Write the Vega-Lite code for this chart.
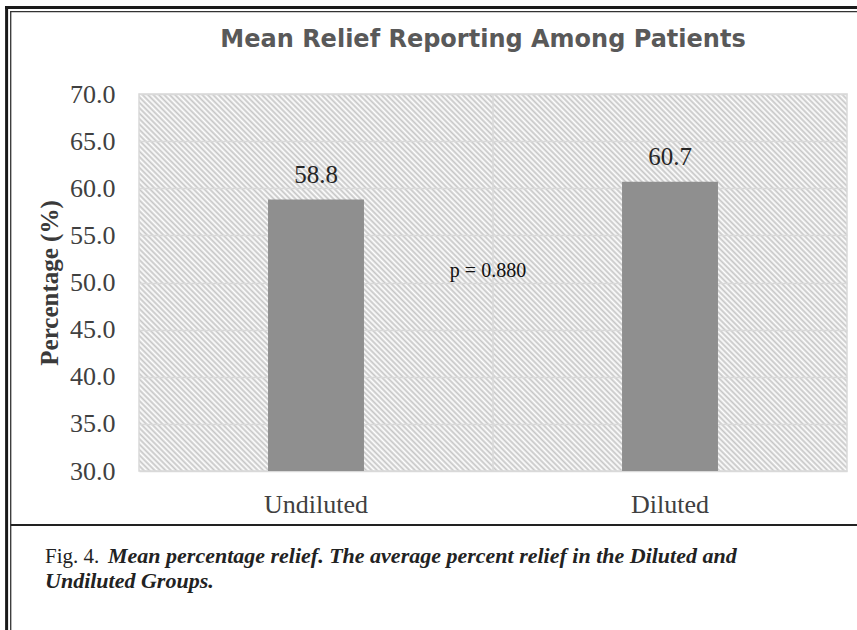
{
 "$schema": "https://vega.github.io/schema/vega-lite/v6.json",
 "width": 708,
 "height": 377,
 "autosize": "none",
 "padding": {"left": 139, "top": 94, "right": 10, "bottom": 159},
 "background": "white",
 "title": {"text": "Mean Relief Reporting Among Patients", "font": "DejaVu Sans", "fontSize": 24, "fontWeight": "bold", "color": "#595959", "anchor": "middle", "frame": "group", "dx": -10, "offset": 28, "dy": 76},
 "data": {"values": [{"group": "Undiluted", "relief": 58.8}, {"group": "Diluted", "relief": 60.7}]},
 "layer": [
  {"transform": [{"filter": {"field": "group", "equal": "Undiluted"}}],
   "mark": {"type": "rule", "color": "#d9d9d9", "strokeWidth": 1.5},
   "encoding": {"x": {"datum": "Diluted", "type": "nominal", "bandPosition": 0, "scale": {"domain": ["Undiluted", "Diluted"], "paddingInner": 0, "paddingOuter": 0}}}},
  {"mark": {"type": "bar", "color": "#8f8f8f", "width": {"band": 0.271}},
   "encoding": {
    "x": {"field": "group", "type": "nominal", "sort": null, "scale": {"domain": ["Undiluted", "Diluted"], "paddingInner": 0, "paddingOuter": 0}, "axis": {"title": null, "labelFontSize": 26, "labelColor": "#404040", "labelPadding": 20, "ticks": false, "domain": false, "grid": false, "labelAngle": 0, "labelAlign": "center", "labelBaseline": "top", "bandPosition": 0.5}},
    "y": {"field": "relief", "type": "quantitative", "scale": {"domain": [30, 70], "nice": false, "zero": false}, "axis": {"title": "Percentage (%)", "values": [30, 35, 40, 45, 50, 55, 60, 65, 70], "format": ".1f", "labelFontSize": 26, "labelColor": "#404040", "labelPadding": 24, "labelFlush": false, "labelOverlap": false, "ticks": false, "domain": false, "grid": true, "gridColor": "#d9d9d9", "gridWidth": 1.5, "titleFontSize": 25, "titleFontWeight": "bold", "titleColor": "#3a3a3a", "titlePadding": 7}},
    "y2": {"datum": 30}
   }},
  {"mark": {"type": "text", "fontSize": 25, "color": "#262626", "baseline": "alphabetic", "dy": -17},
   "encoding": {
    "x": {"field": "group", "type": "nominal"},
    "y": {"field": "relief", "type": "quantitative"},
    "text": {"field": "relief", "type": "quantitative", "format": ".1f"}
   }},
  {"transform": [{"filter": {"field": "group", "equal": "Undiluted"}}],
   "mark": {"type": "text", "fontSize": 20, "color": "#111111", "baseline": "alphabetic", "dx": -5},
   "encoding": {
    "x": {"datum": "Undiluted", "type": "nominal", "bandPosition": 1},
    "y": {"datum": 50.58, "type": "quantitative"},
    "text": {"value": "p = 0.880"}
   }},
  {"transform": [{"filter": {"field": "group", "equal": "Undiluted"}}],
   "mark": {"type": "rule", "color": "#1a1a1a", "strokeWidth": 3},
   "encoding": {
    "x": {"datum": "Undiluted", "type": "nominal", "bandPosition": -0.3785},
    "x2": {"datum": "Diluted", "bandPosition": 1.0282},
    "y": {"datum": 79.18, "type": "quantitative"}
   }},
  {"transform": [{"filter": {"field": "group", "equal": "Undiluted"}}],
   "mark": {"type": "rule", "color": "#333333", "strokeWidth": 1.3},
   "encoding": {
    "x": {"datum": "Undiluted", "type": "nominal", "bandPosition": -0.3636},
    "x2": {"datum": "Diluted", "bandPosition": 1.0282},
    "y": {"datum": 78.75, "type": "quantitative"}
   }},
  {"transform": [{"filter": {"field": "group", "equal": "Undiluted"}}],
   "mark": {"type": "rule", "color": "#1a1a1a", "strokeWidth": 3},
   "encoding": {
    "x": {"datum": "Undiluted", "type": "nominal", "bandPosition": -0.374},
    "y": {"datum": 79.34, "type": "quantitative"},
    "y2": {"datum": 13.13}
   }},
  {"transform": [{"filter": {"field": "group", "equal": "Undiluted"}}],
   "mark": {"type": "rule", "color": "#333333", "strokeWidth": 1.3},
   "encoding": {
    "x": {"datum": "Undiluted", "type": "nominal", "bandPosition": -0.3624},
    "y": {"datum": 78.8, "type": "quantitative"},
    "y2": {"datum": 13.13}
   }},
  {"transform": [{"filter": {"field": "group", "equal": "Undiluted"}}],
   "mark": {"type": "rule", "color": "#222222", "strokeWidth": 2},
   "encoding": {
    "x": {"datum": "Undiluted", "type": "nominal", "bandPosition": -0.3624},
    "x2": {"datum": "Diluted", "bandPosition": 1.0282},
    "y": {"datum": 24.27, "type": "quantitative"}
   }},
  {"transform": [{"filter": {"field": "group", "equal": "Undiluted"}}],
   "mark": {"type": "text", "align": "left", "baseline": "alphabetic", "fontSize": 21, "color": "#222222"},
   "encoding": {
    "x": {"datum": "Undiluted", "type": "nominal", "bandPosition": -0.2655},
    "y": {"datum": 20.24, "type": "quantitative"},
    "text": {"value": "Fig. 4."}
   }},
  {"transform": [{"filter": {"field": "group", "equal": "Undiluted"}}],
   "mark": {"type": "text", "align": "left", "baseline": "alphabetic", "fontSize": 22, "fontStyle": "italic", "fontWeight": "bold", "color": "#222222"},
   "encoding": {
    "x": {"datum": "Undiluted", "type": "nominal", "bandPosition": -0.0876},
    "y": {"datum": 20.24, "type": "quantitative"},
    "text": {"value": "Mean percentage relief.  The average percent relief  in the Diluted and"}
   }},
  {"transform": [{"filter": {"field": "group", "equal": "Undiluted"}}],
   "mark": {"type": "text", "align": "left", "baseline": "alphabetic", "fontSize": 22, "fontStyle": "italic", "fontWeight": "bold", "color": "#222222"},
   "encoding": {
    "x": {"datum": "Undiluted", "type": "nominal", "bandPosition": -0.2655},
    "y": {"datum": 17.59, "type": "quantitative"},
    "text": {"value": "Undiluted Groups."}
   }}
 ],
 "config": {
  "font": "Liberation Serif",
  "axis": {"labelFont": "Liberation Serif", "titleFont": "Liberation Serif"},
  "text": {"font": "Liberation Serif"},
  "view": {"stroke": "#d9d9d9", "strokeWidth": 1.5, "fill": {"gradient": "linear", "x1": 0, "y1": 1, "x2": 1.194, "y2": 0.364, "stops": [
{"offset":0,"color":"#c6c6c6"},{"offset":0.0025,"color":"#fff"},{"offset":0.005,"color":"#c6c6c6"},{"offset":0.0075,"color":"#fff"},
{"offset":0.01,"color":"#c6c6c6"},{"offset":0.0125,"color":"#fff"},{"offset":0.015,"color":"#c6c6c6"},{"offset":0.0175,"color":"#fff"},
{"offset":0.02,"color":"#c6c6c6"},{"offset":0.0225,"color":"#fff"},{"offset":0.025,"color":"#c6c6c6"},{"offset":0.0275,"color":"#fff"},
{"offset":0.03,"color":"#c6c6c6"},{"offset":0.0325,"color":"#fff"},{"offset":0.035,"color":"#c6c6c6"},{"offset":0.0375,"color":"#fff"},
{"offset":0.04,"color":"#c6c6c6"},{"offset":0.0425,"color":"#fff"},{"offset":0.045,"color":"#c6c6c6"},{"offset":0.0475,"color":"#fff"},
{"offset":0.05,"color":"#c6c6c6"},{"offset":0.0525,"color":"#fff"},{"offset":0.055,"color":"#c6c6c6"},{"offset":0.0575,"color":"#fff"},
{"offset":0.06,"color":"#c6c6c6"},{"offset":0.0625,"color":"#fff"},{"offset":0.065,"color":"#c6c6c6"},{"offset":0.0675,"color":"#fff"},
{"offset":0.07,"color":"#c6c6c6"},{"offset":0.0725,"color":"#fff"},{"offset":0.075,"color":"#c6c6c6"},{"offset":0.0775,"color":"#fff"},
{"offset":0.08,"color":"#c6c6c6"},{"offset":0.0825,"color":"#fff"},{"offset":0.085,"color":"#c6c6c6"},{"offset":0.0875,"color":"#fff"},
{"offset":0.09,"color":"#c6c6c6"},{"offset":0.0925,"color":"#fff"},{"offset":0.095,"color":"#c6c6c6"},{"offset":0.0975,"color":"#fff"},
{"offset":0.1,"color":"#c6c6c6"},{"offset":0.1025,"color":"#fff"},{"offset":0.105,"color":"#c6c6c6"},{"offset":0.1075,"color":"#fff"},
{"offset":0.11,"color":"#c6c6c6"},{"offset":0.1125,"color":"#fff"},{"offset":0.115,"color":"#c6c6c6"},{"offset":0.1175,"color":"#fff"},
{"offset":0.12,"color":"#c6c6c6"},{"offset":0.1225,"color":"#fff"},{"offset":0.125,"color":"#c6c6c6"},{"offset":0.1275,"color":"#fff"},
{"offset":0.13,"color":"#c6c6c6"},{"offset":0.1325,"color":"#fff"},{"offset":0.135,"color":"#c6c6c6"},{"offset":0.1375,"color":"#fff"},
{"offset":0.14,"color":"#c6c6c6"},{"offset":0.1425,"color":"#fff"},{"offset":0.145,"color":"#c6c6c6"},{"offset":0.1475,"color":"#fff"},
{"offset":0.15,"color":"#c6c6c6"},{"offset":0.1525,"color":"#fff"},{"offset":0.155,"color":"#c6c6c6"},{"offset":0.1575,"color":"#fff"},
{"offset":0.16,"color":"#c6c6c6"},{"offset":0.1625,"color":"#fff"},{"offset":0.165,"color":"#c6c6c6"},{"offset":0.1675,"color":"#fff"},
{"offset":0.17,"color":"#c6c6c6"},{"offset":0.1725,"color":"#fff"},{"offset":0.175,"color":"#c6c6c6"},{"offset":0.1775,"color":"#fff"},
{"offset":0.18,"color":"#c6c6c6"},{"offset":0.1825,"color":"#fff"},{"offset":0.185,"color":"#c6c6c6"},{"offset":0.1875,"color":"#fff"},
{"offset":0.19,"color":"#c6c6c6"},{"offset":0.1925,"color":"#fff"},{"offset":0.195,"color":"#c6c6c6"},{"offset":0.1975,"color":"#fff"},
{"offset":0.2,"color":"#c6c6c6"},{"offset":0.2025,"color":"#fff"},{"offset":0.205,"color":"#c6c6c6"},{"offset":0.2075,"color":"#fff"},
{"offset":0.21,"color":"#c6c6c6"},{"offset":0.2125,"color":"#fff"},{"offset":0.215,"color":"#c6c6c6"},{"offset":0.2175,"color":"#fff"},
{"offset":0.22,"color":"#c6c6c6"},{"offset":0.2225,"color":"#fff"},{"offset":0.225,"color":"#c6c6c6"},{"offset":0.2275,"color":"#fff"},
{"offset":0.23,"color":"#c6c6c6"},{"offset":0.2325,"color":"#fff"},{"offset":0.235,"color":"#c6c6c6"},{"offset":0.2375,"color":"#fff"},
{"offset":0.24,"color":"#c6c6c6"},{"offset":0.2425,"color":"#fff"},{"offset":0.245,"color":"#c6c6c6"},{"offset":0.2475,"color":"#fff"},
{"offset":0.25,"color":"#c6c6c6"},{"offset":0.2525,"color":"#fff"},{"offset":0.255,"color":"#c6c6c6"},{"offset":0.2575,"color":"#fff"},
{"offset":0.26,"color":"#c6c6c6"},{"offset":0.2625,"color":"#fff"},{"offset":0.265,"color":"#c6c6c6"},{"offset":0.2675,"color":"#fff"},
{"offset":0.27,"color":"#c6c6c6"},{"offset":0.2725,"color":"#fff"},{"offset":0.275,"color":"#c6c6c6"},{"offset":0.2775,"color":"#fff"},
{"offset":0.28,"color":"#c6c6c6"},{"offset":0.2825,"color":"#fff"},{"offset":0.285,"color":"#c6c6c6"},{"offset":0.2875,"color":"#fff"},
{"offset":0.29,"color":"#c6c6c6"},{"offset":0.2925,"color":"#fff"},{"offset":0.295,"color":"#c6c6c6"},{"offset":0.2975,"color":"#fff"},
{"offset":0.3,"color":"#c6c6c6"},{"offset":0.3025,"color":"#fff"},{"offset":0.305,"color":"#c6c6c6"},{"offset":0.3075,"color":"#fff"},
{"offset":0.31,"color":"#c6c6c6"},{"offset":0.3125,"color":"#fff"},{"offset":0.315,"color":"#c6c6c6"},{"offset":0.3175,"color":"#fff"},
{"offset":0.32,"color":"#c6c6c6"},{"offset":0.3225,"color":"#fff"},{"offset":0.325,"color":"#c6c6c6"},{"offset":0.3275,"color":"#fff"},
{"offset":0.33,"color":"#c6c6c6"},{"offset":0.3325,"color":"#fff"},{"offset":0.335,"color":"#c6c6c6"},{"offset":0.3375,"color":"#fff"},
{"offset":0.34,"color":"#c6c6c6"},{"offset":0.3425,"color":"#fff"},{"offset":0.345,"color":"#c6c6c6"},{"offset":0.3475,"color":"#fff"},
{"offset":0.35,"color":"#c6c6c6"},{"offset":0.3525,"color":"#fff"},{"offset":0.355,"color":"#c6c6c6"},{"offset":0.3575,"color":"#fff"},
{"offset":0.36,"color":"#c6c6c6"},{"offset":0.3625,"color":"#fff"},{"offset":0.365,"color":"#c6c6c6"},{"offset":0.3675,"color":"#fff"},
{"offset":0.37,"color":"#c6c6c6"},{"offset":0.3725,"color":"#fff"},{"offset":0.375,"color":"#c6c6c6"},{"offset":0.3775,"color":"#fff"},
{"offset":0.38,"color":"#c6c6c6"},{"offset":0.3825,"color":"#fff"},{"offset":0.385,"color":"#c6c6c6"},{"offset":0.3875,"color":"#fff"},
{"offset":0.39,"color":"#c6c6c6"},{"offset":0.3925,"color":"#fff"},{"offset":0.395,"color":"#c6c6c6"},{"offset":0.3975,"color":"#fff"},
{"offset":0.4,"color":"#c6c6c6"},{"offset":0.4025,"color":"#fff"},{"offset":0.405,"color":"#c6c6c6"},{"offset":0.4075,"color":"#fff"},
{"offset":0.41,"color":"#c6c6c6"},{"offset":0.4125,"color":"#fff"},{"offset":0.415,"color":"#c6c6c6"},{"offset":0.4175,"color":"#fff"},
{"offset":0.42,"color":"#c6c6c6"},{"offset":0.4225,"color":"#fff"},{"offset":0.425,"color":"#c6c6c6"},{"offset":0.4275,"color":"#fff"},
{"offset":0.43,"color":"#c6c6c6"},{"offset":0.4325,"color":"#fff"},{"offset":0.435,"color":"#c6c6c6"},{"offset":0.4375,"color":"#fff"},
{"offset":0.44,"color":"#c6c6c6"},{"offset":0.4425,"color":"#fff"},{"offset":0.445,"color":"#c6c6c6"},{"offset":0.4475,"color":"#fff"},
{"offset":0.45,"color":"#c6c6c6"},{"offset":0.4525,"color":"#fff"},{"offset":0.455,"color":"#c6c6c6"},{"offset":0.4575,"color":"#fff"},
{"offset":0.46,"color":"#c6c6c6"},{"offset":0.4625,"color":"#fff"},{"offset":0.465,"color":"#c6c6c6"},{"offset":0.4675,"color":"#fff"},
{"offset":0.47,"color":"#c6c6c6"},{"offset":0.4725,"color":"#fff"},{"offset":0.475,"color":"#c6c6c6"},{"offset":0.4775,"color":"#fff"},
{"offset":0.48,"color":"#c6c6c6"},{"offset":0.4825,"color":"#fff"},{"offset":0.485,"color":"#c6c6c6"},{"offset":0.4875,"color":"#fff"},
{"offset":0.49,"color":"#c6c6c6"},{"offset":0.4925,"color":"#fff"},{"offset":0.495,"color":"#c6c6c6"},{"offset":0.4975,"color":"#fff"},
{"offset":0.5,"color":"#c6c6c6"},{"offset":0.5025,"color":"#fff"},{"offset":0.505,"color":"#c6c6c6"},{"offset":0.5075,"color":"#fff"},
{"offset":0.51,"color":"#c6c6c6"},{"offset":0.5125,"color":"#fff"},{"offset":0.515,"color":"#c6c6c6"},{"offset":0.5175,"color":"#fff"},
{"offset":0.52,"color":"#c6c6c6"},{"offset":0.5225,"color":"#fff"},{"offset":0.525,"color":"#c6c6c6"},{"offset":0.5275,"color":"#fff"},
{"offset":0.53,"color":"#c6c6c6"},{"offset":0.5325,"color":"#fff"},{"offset":0.535,"color":"#c6c6c6"},{"offset":0.5375,"color":"#fff"},
{"offset":0.54,"color":"#c6c6c6"},{"offset":0.5425,"color":"#fff"},{"offset":0.545,"color":"#c6c6c6"},{"offset":0.5475,"color":"#fff"},
{"offset":0.55,"color":"#c6c6c6"},{"offset":0.5525,"color":"#fff"},{"offset":0.555,"color":"#c6c6c6"},{"offset":0.5575,"color":"#fff"},
{"offset":0.56,"color":"#c6c6c6"},{"offset":0.5625,"color":"#fff"},{"offset":0.565,"color":"#c6c6c6"},{"offset":0.5675,"color":"#fff"},
{"offset":0.57,"color":"#c6c6c6"},{"offset":0.5725,"color":"#fff"},{"offset":0.575,"color":"#c6c6c6"},{"offset":0.5775,"color":"#fff"},
{"offset":0.58,"color":"#c6c6c6"},{"offset":0.5825,"color":"#fff"},{"offset":0.585,"color":"#c6c6c6"},{"offset":0.5875,"color":"#fff"},
{"offset":0.59,"color":"#c6c6c6"},{"offset":0.5925,"color":"#fff"},{"offset":0.595,"color":"#c6c6c6"},{"offset":0.5975,"color":"#fff"},
{"offset":0.6,"color":"#c6c6c6"},{"offset":0.6025,"color":"#fff"},{"offset":0.605,"color":"#c6c6c6"},{"offset":0.6075,"color":"#fff"},
{"offset":0.61,"color":"#c6c6c6"},{"offset":0.6125,"color":"#fff"},{"offset":0.615,"color":"#c6c6c6"},{"offset":0.6175,"color":"#fff"},
{"offset":0.62,"color":"#c6c6c6"},{"offset":0.6225,"color":"#fff"},{"offset":0.625,"color":"#c6c6c6"},{"offset":0.6275,"color":"#fff"},
{"offset":0.63,"color":"#c6c6c6"},{"offset":0.6325,"color":"#fff"},{"offset":0.635,"color":"#c6c6c6"},{"offset":0.6375,"color":"#fff"},
{"offset":0.64,"color":"#c6c6c6"},{"offset":0.6425,"color":"#fff"},{"offset":0.645,"color":"#c6c6c6"},{"offset":0.6475,"color":"#fff"},
{"offset":0.65,"color":"#c6c6c6"},{"offset":0.6525,"color":"#fff"},{"offset":0.655,"color":"#c6c6c6"},{"offset":0.6575,"color":"#fff"},
{"offset":0.66,"color":"#c6c6c6"},{"offset":0.6625,"color":"#fff"},{"offset":0.665,"color":"#c6c6c6"},{"offset":0.6675,"color":"#fff"},
{"offset":0.67,"color":"#c6c6c6"},{"offset":0.6725,"color":"#fff"},{"offset":0.675,"color":"#c6c6c6"},{"offset":0.6775,"color":"#fff"},
{"offset":0.68,"color":"#c6c6c6"},{"offset":0.6825,"color":"#fff"},{"offset":0.685,"color":"#c6c6c6"},{"offset":0.6875,"color":"#fff"},
{"offset":0.69,"color":"#c6c6c6"},{"offset":0.6925,"color":"#fff"},{"offset":0.695,"color":"#c6c6c6"},{"offset":0.6975,"color":"#fff"},
{"offset":0.7,"color":"#c6c6c6"},{"offset":0.7025,"color":"#fff"},{"offset":0.705,"color":"#c6c6c6"},{"offset":0.7075,"color":"#fff"},
{"offset":0.71,"color":"#c6c6c6"},{"offset":0.7125,"color":"#fff"},{"offset":0.715,"color":"#c6c6c6"},{"offset":0.7175,"color":"#fff"},
{"offset":0.72,"color":"#c6c6c6"},{"offset":0.7225,"color":"#fff"},{"offset":0.725,"color":"#c6c6c6"},{"offset":0.7275,"color":"#fff"},
{"offset":0.73,"color":"#c6c6c6"},{"offset":0.7325,"color":"#fff"},{"offset":0.735,"color":"#c6c6c6"},{"offset":0.7375,"color":"#fff"},
{"offset":0.74,"color":"#c6c6c6"},{"offset":0.7425,"color":"#fff"},{"offset":0.745,"color":"#c6c6c6"},{"offset":0.7475,"color":"#fff"},
{"offset":0.75,"color":"#c6c6c6"},{"offset":0.7525,"color":"#fff"},{"offset":0.755,"color":"#c6c6c6"},{"offset":0.7575,"color":"#fff"},
{"offset":0.76,"color":"#c6c6c6"},{"offset":0.7625,"color":"#fff"},{"offset":0.765,"color":"#c6c6c6"},{"offset":0.7675,"color":"#fff"},
{"offset":0.77,"color":"#c6c6c6"},{"offset":0.7725,"color":"#fff"},{"offset":0.775,"color":"#c6c6c6"},{"offset":0.7775,"color":"#fff"},
{"offset":0.78,"color":"#c6c6c6"},{"offset":0.7825,"color":"#fff"},{"offset":0.785,"color":"#c6c6c6"},{"offset":0.7875,"color":"#fff"},
{"offset":0.79,"color":"#c6c6c6"},{"offset":0.7925,"color":"#fff"},{"offset":0.795,"color":"#c6c6c6"},{"offset":0.7975,"color":"#fff"},
{"offset":0.8,"color":"#c6c6c6"},{"offset":0.8025,"color":"#fff"},{"offset":0.805,"color":"#c6c6c6"},{"offset":0.8075,"color":"#fff"},
{"offset":0.81,"color":"#c6c6c6"},{"offset":0.8125,"color":"#fff"},{"offset":0.815,"color":"#c6c6c6"},{"offset":0.8175,"color":"#fff"},
{"offset":0.82,"color":"#c6c6c6"},{"offset":0.8225,"color":"#fff"},{"offset":0.825,"color":"#c6c6c6"},{"offset":0.8275,"color":"#fff"},
{"offset":0.83,"color":"#c6c6c6"},{"offset":0.8325,"color":"#fff"},{"offset":0.835,"color":"#c6c6c6"},{"offset":0.8375,"color":"#fff"},
{"offset":0.84,"color":"#c6c6c6"},{"offset":0.8425,"color":"#fff"},{"offset":0.845,"color":"#c6c6c6"},{"offset":0.8475,"color":"#fff"},
{"offset":0.85,"color":"#c6c6c6"},{"offset":0.8525,"color":"#fff"},{"offset":0.855,"color":"#c6c6c6"},{"offset":0.8575,"color":"#fff"},
{"offset":0.86,"color":"#c6c6c6"},{"offset":0.8625,"color":"#fff"},{"offset":0.865,"color":"#c6c6c6"},{"offset":0.8675,"color":"#fff"},
{"offset":0.87,"color":"#c6c6c6"},{"offset":0.8725,"color":"#fff"},{"offset":0.875,"color":"#c6c6c6"},{"offset":0.8775,"color":"#fff"},
{"offset":0.88,"color":"#c6c6c6"},{"offset":0.8825,"color":"#fff"},{"offset":0.885,"color":"#c6c6c6"},{"offset":0.8875,"color":"#fff"},
{"offset":0.89,"color":"#c6c6c6"},{"offset":0.8925,"color":"#fff"},{"offset":0.895,"color":"#c6c6c6"},{"offset":0.8975,"color":"#fff"},
{"offset":0.9,"color":"#c6c6c6"},{"offset":0.9025,"color":"#fff"},{"offset":0.905,"color":"#c6c6c6"},{"offset":0.9075,"color":"#fff"},
{"offset":0.91,"color":"#c6c6c6"},{"offset":0.9125,"color":"#fff"},{"offset":0.915,"color":"#c6c6c6"},{"offset":0.9175,"color":"#fff"},
{"offset":0.92,"color":"#c6c6c6"},{"offset":0.9225,"color":"#fff"},{"offset":0.925,"color":"#c6c6c6"},{"offset":0.9275,"color":"#fff"},
{"offset":0.93,"color":"#c6c6c6"},{"offset":0.9325,"color":"#fff"},{"offset":0.935,"color":"#c6c6c6"},{"offset":0.9375,"color":"#fff"},
{"offset":0.94,"color":"#c6c6c6"},{"offset":0.9425,"color":"#fff"},{"offset":0.945,"color":"#c6c6c6"},{"offset":0.9475,"color":"#fff"},
{"offset":0.95,"color":"#c6c6c6"},{"offset":0.9525,"color":"#fff"},{"offset":0.955,"color":"#c6c6c6"},{"offset":0.9575,"color":"#fff"},
{"offset":0.96,"color":"#c6c6c6"},{"offset":0.9625,"color":"#fff"},{"offset":0.965,"color":"#c6c6c6"},{"offset":0.9675,"color":"#fff"},
{"offset":0.97,"color":"#c6c6c6"},{"offset":0.9725,"color":"#fff"},{"offset":0.975,"color":"#c6c6c6"},{"offset":0.9775,"color":"#fff"},
{"offset":0.98,"color":"#c6c6c6"},{"offset":0.9825,"color":"#fff"},{"offset":0.985,"color":"#c6c6c6"},{"offset":0.9875,"color":"#fff"},
{"offset":0.99,"color":"#c6c6c6"},{"offset":0.9925,"color":"#fff"},{"offset":0.995,"color":"#c6c6c6"},{"offset":0.9975,"color":"#fff"},
{"offset":1,"color":"#c6c6c6"}
  ]}}
 }
}
